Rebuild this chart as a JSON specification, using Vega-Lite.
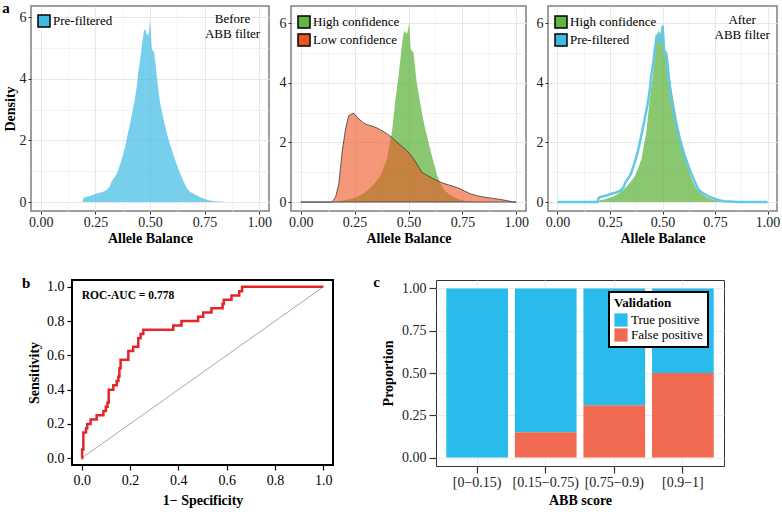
{
"$schema": "https://vega.github.io/schema/vega-lite/v6.json",
"padding": {"left": 1, "top": 0, "right": 0, "bottom": 0},
"spacing": 27,
"resolve": {"scale": {"color": "independent"}, "legend": {"color": "independent"}},
"config": {
  "font": "Liberation Serif",
  "axis": {"labelFont": "Liberation Serif", "titleFont": "Liberation Serif", "titleFontWeight": "bold", "titleColor": "black"},
  "legend": {"labelFont": "Liberation Serif", "titleFont": "Liberation Serif"},
  "text": {"font": "Liberation Serif"},
  "view": {"stroke": null}
},
"datasets": {
  "prefiltered": [{"x":0,"y":0},{"x":0.19,"y":0},{"x":0.195,"y":0.12},{"x":0.2,"y":0.16},{"x":0.225,"y":0.2},{"x":0.253,"y":0.27},{"x":0.28,"y":0.32},{"x":0.3,"y":0.38},{"x":0.315,"y":0.5},{"x":0.323,"y":0.65},{"x":0.338,"y":0.81},{"x":0.35,"y":0.95},{"x":0.361,"y":1.19},{"x":0.372,"y":1.42},{"x":0.384,"y":1.73},{"x":0.395,"y":2.1},{"x":0.407,"y":2.49},{"x":0.42,"y":2.95},{"x":0.431,"y":3.35},{"x":0.44,"y":3.8},{"x":0.446,"y":4.22},{"x":0.455,"y":4.6},{"x":0.461,"y":4.97},{"x":0.468,"y":5.35},{"x":0.472,"y":5.57},{"x":0.478,"y":5.6},{"x":0.485,"y":5.46},{"x":0.492,"y":5.4},{"x":0.497,"y":5.6},{"x":0.5,"y":5.9},{"x":0.504,"y":5.5},{"x":0.508,"y":4.97},{"x":0.514,"y":4.9},{"x":0.519,"y":4.86},{"x":0.525,"y":4.5},{"x":0.531,"y":4.1},{"x":0.538,"y":3.65},{"x":0.546,"y":3.24},{"x":0.557,"y":2.85},{"x":0.569,"y":2.49},{"x":0.58,"y":2.15},{"x":0.593,"y":1.84},{"x":0.605,"y":1.58},{"x":0.616,"y":1.35},{"x":0.627,"y":1.12},{"x":0.639,"y":0.92},{"x":0.655,"y":0.65},{"x":0.67,"y":0.43},{"x":0.685,"y":0.33},{"x":0.7,"y":0.27},{"x":0.725,"y":0.17},{"x":0.747,"y":0.11},{"x":0.77,"y":0.06},{"x":0.793,"y":0.03},{"x":0.82,"y":0.015},{"x":0.855,"y":0},{"x":1,"y":0}],
  "high": [{"x":0,"y":0},{"x":0.15,"y":0},{"x":0.17,"y":0.02},{"x":0.2,"y":0.05},{"x":0.23,"y":0.1},{"x":0.26,"y":0.17},{"x":0.29,"y":0.28},{"x":0.32,"y":0.45},{"x":0.345,"y":0.65},{"x":0.37,"y":0.89},{"x":0.385,"y":1.15},{"x":0.4,"y":1.45},{"x":0.41,"y":1.85},{"x":0.423,"y":2.34},{"x":0.43,"y":2.8},{"x":0.438,"y":3.35},{"x":0.446,"y":3.8},{"x":0.454,"y":4.24},{"x":0.462,"y":4.75},{"x":0.469,"y":5.24},{"x":0.475,"y":5.55},{"x":0.48,"y":5.74},{"x":0.486,"y":5.7},{"x":0.492,"y":5.63},{"x":0.497,"y":5.75},{"x":0.503,"y":6.02},{"x":0.507,"y":5.5},{"x":0.51,"y":5.13},{"x":0.516,"y":5.06},{"x":0.523,"y":5.02},{"x":0.53,"y":4.55},{"x":0.538,"y":4.01},{"x":0.55,"y":3.5},{"x":0.562,"y":3.01},{"x":0.573,"y":2.6},{"x":0.585,"y":2.23},{"x":0.597,"y":1.88},{"x":0.608,"y":1.56},{"x":0.62,"y":1.25},{"x":0.63,"y":0.95},{"x":0.645,"y":0.68},{"x":0.66,"y":0.45},{"x":0.685,"y":0.28},{"x":0.71,"y":0.17},{"x":0.74,"y":0.08},{"x":0.77,"y":0.03},{"x":0.83,"y":0},{"x":1,"y":0}],
  "low": [{"x":0,"y":0},{"x":0.146,"y":0},{"x":0.162,"y":0.17},{"x":0.177,"y":0.61},{"x":0.192,"y":1.67},{"x":0.208,"y":2.45},{"x":0.223,"y":2.9},{"x":0.246,"y":2.98},{"x":0.269,"y":2.79},{"x":0.29,"y":2.66},{"x":0.308,"y":2.59},{"x":0.33,"y":2.55},{"x":0.354,"y":2.48},{"x":0.38,"y":2.38},{"x":0.4,"y":2.29},{"x":0.425,"y":2.15},{"x":0.446,"y":2.01},{"x":0.47,"y":1.86},{"x":0.492,"y":1.73},{"x":0.51,"y":1.58},{"x":0.523,"y":1.45},{"x":0.545,"y":1.2},{"x":0.562,"y":1.0},{"x":0.58,"y":0.92},{"x":0.6,"y":0.84},{"x":0.623,"y":0.75},{"x":0.646,"y":0.67},{"x":0.67,"y":0.61},{"x":0.692,"y":0.56},{"x":0.715,"y":0.51},{"x":0.738,"y":0.45},{"x":0.76,"y":0.37},{"x":0.785,"y":0.28},{"x":0.815,"y":0.22},{"x":0.846,"y":0.17},{"x":0.885,"y":0.13},{"x":0.923,"y":0.09},{"x":0.955,"y":0.05},{"x":0.985,"y":0},{"x":1,"y":0}],
  "roc": [{"x":0,"y":0},{"x":0.002,"y":0.05},{"x":0.007,"y":0.15},{"x":0.018,"y":0.175},{"x":0.023,"y":0.2},{"x":0.037,"y":0.225},{"x":0.062,"y":0.25},{"x":0.09,"y":0.275},{"x":0.1,"y":0.3},{"x":0.107,"y":0.325},{"x":0.112,"y":0.4},{"x":0.131,"y":0.425},{"x":0.145,"y":0.45},{"x":0.152,"y":0.475},{"x":0.156,"y":0.525},{"x":0.161,"y":0.575},{"x":0.193,"y":0.625},{"x":0.213,"y":0.65},{"x":0.234,"y":0.7},{"x":0.244,"y":0.725},{"x":0.255,"y":0.75},{"x":0.379,"y":0.775},{"x":0.413,"y":0.8},{"x":0.482,"y":0.825},{"x":0.503,"y":0.85},{"x":0.537,"y":0.875},{"x":0.583,"y":0.9},{"x":0.588,"y":0.925},{"x":0.62,"y":0.95},{"x":0.652,"y":0.975},{"x":0.664,"y":1.0},{"x":1.0,"y":1.0}],
  "diag": [{"x":0,"y":0},{"x":1,"y":1}],
  "bars": [
    {"score":"[0−0.15)","validation":"True positive","prop":1.0},
    {"score":"[0−0.15)","validation":"False positive","prop":0.0},
    {"score":"[0.15−0.75)","validation":"True positive","prop":0.85},
    {"score":"[0.15−0.75)","validation":"False positive","prop":0.15},
    {"score":"[0.75−0.9)","validation":"True positive","prop":0.69},
    {"score":"[0.75−0.9)","validation":"False positive","prop":0.31},
    {"score":"[0.9−1]","validation":"True positive","prop":0.5},
    {"score":"[0.9−1]","validation":"False positive","prop":0.5}
  ]
},
"vconcat": [
  {
    "resolve": {"scale": {"color": "independent"}, "legend": {"color": "independent"}},
    "hconcat": [
      {
        "width": 238, "height": 205,
        "view": {"stroke": "#7f7f7f", "strokeWidth": 1.5},
        "layer": [
          {
            "data": {"name": "prefiltered"},
            "mark": {"type": "area", "opacity": 0.7},
            "encoding": {
              "x": {"field": "x", "type": "quantitative", "scale": {"domain": [-0.045, 1.045], "nice": false},
                "axis": {"title": "Allele Balance", "values": [0,0.125,0.25,0.375,0.5,0.625,0.75,0.875,1], "tickCount": 20, "labelExpr": "(datum.value*4)%1==0 ? format(datum.value,'.2f') : ''", "tickOpacity": {"condition": {"test": "(datum.value*4)%1==0", "value": 1}, "value": 0}, "gridColor": "#e8e8e8", "gridWidth": {"condition": {"test": "(datum.value*4)%1==0", "value": 1}, "value": 0.5}, "domain": false, "tickSize": 3, "tickColor": "#333333", "labelPadding": 1, "labelFontSize": 14, "labelColor": "#222222", "labelOverlap": false, "labelFlush": false, "titleFontSize": 14, "titlePadding": 2}},
              "y": {"field": "y", "type": "quantitative", "scale": {"domain": [-0.29, 6.36], "nice": false},
                "axis": {"title": "Density", "values": [0,1,2,3,4,5,6], "tickCount": 20, "labelExpr": "datum.value%2==0 ? format(datum.value,'d') : ''", "tickOpacity": {"condition": {"test": "datum.value%2==0", "value": 1}, "value": 0}, "gridColor": "#e8e8e8", "gridWidth": {"condition": {"test": "datum.value%2==0", "value": 1}, "value": 0.5}, "domain": false, "tickSize": 3, "tickColor": "#333333", "labelPadding": 2, "labelFontSize": 14, "labelColor": "#222222", "labelOverlap": false, "titleFontSize": 14, "titlePadding": 2}},
              "y2": {"datum": 0},
              "color": {"datum": "Pre-filtered", "type": "nominal", "scale": {"domain": ["Pre-filtered"], "range": ["#3dbbe4"]},
                "legend": {"orient": "none", "legendX": 6, "legendY": 8, "title": null, "symbolType": "square", "symbolSize": 144, "symbolStrokeColor": "black", "symbolStrokeWidth": 1.5, "symbolOpacity": 1, "labelFontSize": 13, "labelColor": "black", "labelOffset": 2, "rowPadding": 0, "padding": 0, "direction": "vertical"}}
            }
          },
          {
            "data": {"values": [{}]},
            "mark": {"type": "text", "text": ["Before", "ABB filter"], "fontSize": 13, "lineHeight": 15, "align": "center", "baseline": "alphabetic", "color": "black"},
            "encoding": {"x": {"datum": 0.878}, "y": {"datum": 5.82}}
          },
          {
            "data": {"values": [{}]},
            "mark": {"type": "text", "text": "a", "fontSize": 15, "fontWeight": "bold", "align": "center", "baseline": "alphabetic", "color": "black"},
            "encoding": {"x": {"datum": -0.16}, "y": {"datum": 6.14}}
          }
        ]
      },
      {
        "width": 235, "height": 205,
        "view": {"stroke": "#7f7f7f", "strokeWidth": 1.5},
        "layer": [
          {
            "data": {"name": "high"},
            "mark": {"type": "area", "opacity": 0.75},
            "encoding": {
              "x": {"field": "x", "type": "quantitative", "scale": {"domain": [-0.045, 1.045], "nice": false},
                "axis": {"title": "Allele Balance", "values": [0,0.125,0.25,0.375,0.5,0.625,0.75,0.875,1], "tickCount": 20, "labelExpr": "(datum.value*4)%1==0 ? format(datum.value,'.2f') : ''", "tickOpacity": {"condition": {"test": "(datum.value*4)%1==0", "value": 1}, "value": 0}, "gridColor": "#e8e8e8", "gridWidth": {"condition": {"test": "(datum.value*4)%1==0", "value": 1}, "value": 0.5}, "domain": false, "tickSize": 3, "tickColor": "#333333", "labelPadding": 1, "labelFontSize": 14, "labelColor": "#222222", "labelOverlap": false, "labelFlush": false, "titleFontSize": 14, "titlePadding": 2}},
              "y": {"field": "y", "type": "quantitative", "scale": {"domain": [-0.3, 6.57], "nice": false},
                "axis": {"title": null, "values": [0,1,2,3,4,5,6], "tickCount": 20, "labelExpr": "datum.value%2==0 ? format(datum.value,'d') : ''", "tickOpacity": {"condition": {"test": "datum.value%2==0", "value": 1}, "value": 0}, "gridColor": "#e8e8e8", "gridWidth": {"condition": {"test": "datum.value%2==0", "value": 1}, "value": 0.5}, "domain": false, "tickSize": 3, "tickColor": "#333333", "labelPadding": 2, "labelFontSize": 14, "labelColor": "#222222", "labelOverlap": false}},
              "y2": {"datum": 0},
              "color": {"datum": "High confidence", "type": "nominal", "scale": {"domain": ["High confidence", "Low confidence"], "range": ["#62b541", "#ee5420"]},
                "legend": {"orient": "none", "legendX": 6, "legendY": 9, "title": null, "symbolType": "square", "symbolSize": 144, "symbolStrokeColor": "black", "symbolStrokeWidth": 1.5, "symbolOpacity": 1, "labelFontSize": 13, "labelColor": "black", "labelOffset": 2, "rowPadding": 0, "padding": 0, "direction": "vertical"}}
            }
          },
          {
            "data": {"name": "low"},
            "mark": {"type": "area", "fillOpacity": 0.6, "stroke": "#3a3a3a", "strokeWidth": 0.8},
            "encoding": {
              "x": {"field": "x", "type": "quantitative", "title": "Allele Balance"},
              "y": {"field": "y", "type": "quantitative", "title": null},
              "y2": {"datum": 0},
              "color": {"datum": "Low confidence", "type": "nominal",
                "legend": {"orient": "none", "legendX": 6, "legendY": 9, "title": null, "symbolType": "square", "symbolSize": 144, "symbolStrokeColor": "black", "symbolStrokeWidth": 1.5, "symbolOpacity": 1, "labelFontSize": 13, "labelColor": "black", "labelOffset": 2, "rowPadding": 0, "padding": 0, "direction": "vertical"}}
            }
          }
        ]
      },
      {
        "width": 229, "height": 205,
        "view": {"stroke": "#7f7f7f", "strokeWidth": 1.5},
        "layer": [
          {
            "data": {"name": "high"},
            "mark": {"type": "area", "opacity": 0.75},
            "encoding": {
              "x": {"field": "x", "type": "quantitative", "scale": {"domain": [-0.045, 1.045], "nice": false},
                "axis": {"title": "Allele Balance", "values": [0,0.125,0.25,0.375,0.5,0.625,0.75,0.875,1], "tickCount": 20, "labelExpr": "(datum.value*4)%1==0 ? format(datum.value,'.2f') : ''", "tickOpacity": {"condition": {"test": "(datum.value*4)%1==0", "value": 1}, "value": 0}, "gridColor": "#e8e8e8", "gridWidth": {"condition": {"test": "(datum.value*4)%1==0", "value": 1}, "value": 0.5}, "domain": false, "tickSize": 3, "tickColor": "#333333", "labelPadding": 1, "labelFontSize": 14, "labelColor": "#222222", "labelOverlap": false, "labelFlush": false, "titleFontSize": 14, "titlePadding": 2}},
              "y": {"field": "y", "type": "quantitative", "scale": {"domain": [-0.3, 6.57], "nice": false},
                "axis": {"title": null, "values": [0,1,2,3,4,5,6], "tickCount": 20, "labelExpr": "datum.value%2==0 ? format(datum.value,'d') : ''", "tickOpacity": {"condition": {"test": "datum.value%2==0", "value": 1}, "value": 0}, "gridColor": "#e8e8e8", "gridWidth": {"condition": {"test": "datum.value%2==0", "value": 1}, "value": 0.5}, "domain": false, "tickSize": 3, "tickColor": "#333333", "labelPadding": 2, "labelFontSize": 14, "labelColor": "#222222", "labelOverlap": false}},
              "y2": {"datum": 0},
              "color": {"datum": "High confidence", "type": "nominal", "scale": {"domain": ["High confidence", "Pre-filtered"], "range": ["#62b541", "#3dbbe4"]},
                "legend": {"orient": "none", "legendX": 6, "legendY": 9, "title": null, "symbolType": "square", "symbolSize": 144, "symbolStrokeColor": "black", "symbolStrokeWidth": 1.5, "symbolOpacity": 1, "labelFontSize": 13, "labelColor": "black", "labelOffset": 2, "rowPadding": 0, "padding": 0, "direction": "vertical"}}
            }
          },
          {
            "data": {"name": "prefiltered"},
            "mark": {"type": "line", "color": "#62c8ea", "strokeWidth": 2.5},
            "encoding": {
              "x": {"field": "x", "type": "quantitative", "title": "Allele Balance"},
              "y": {"field": "y", "type": "quantitative", "title": null}
            }
          },
          {
            "data": {"values": [{}]},
            "mark": {"type": "text", "text": ["After", "ABB filter"], "fontSize": 13, "lineHeight": 15, "align": "center", "baseline": "alphabetic", "color": "black"},
            "encoding": {"x": {"datum": 0.879}, "y": {"datum": 5.98}}
          }
        ]
      }
    ],
    "spacing": 22,
    "bounds": "flush"
  },
  {
    "resolve": {"scale": {"color": "independent"}, "legend": {"color": "independent"}},
    "hconcat": [
      {
        "width": 41, "height": 1,
        "view": {"stroke": null},
        "data": {"values": [{}]},
        "mark": {"type": "text", "text": ""},
        "encoding": {}
      },
      {
        "resolve": {"scale": {"color": "independent"}, "legend": {"color": "independent"}},
        "hconcat": [
          {
            "width": 261, "height": 185,
            "view": {"stroke": "black", "strokeWidth": 2},
            "layer": [
              {
                "data": {"name": "diag"},
                "mark": {"type": "line", "color": "#a8a8a8", "strokeWidth": 1},
                "encoding": {
                  "x": {"field": "x", "type": "quantitative", "scale": {"domain": [-0.04, 1.04], "nice": false},
                    "axis": {"title": "1− Specificity", "values": [0,0.2,0.4,0.6,0.8,1], "tickCount": 20, "format": ".1f", "grid": false, "domain": false, "tickSize": 5, "tickWidth": 1.2, "tickColor": "black", "labelFontSize": 14, "labelColor": "black", "labelPadding": 3, "labelFlush": false, "labelOverlap": false, "titleFontSize": 14, "titlePadding": 6}},
                  "y": {"field": "y", "type": "quantitative", "scale": {"domain": [-0.04, 1.04], "nice": false},
                    "axis": {"title": "Sensitivity", "values": [0,0.2,0.4,0.6,0.8,1], "tickCount": 20, "format": ".1f", "grid": false, "domain": false, "tickSize": 5, "tickWidth": 1.2, "tickColor": "black", "labelFontSize": 14, "labelColor": "black", "labelPadding": 3, "labelFlush": false, "labelOverlap": false, "titleFontSize": 14, "titlePadding": 5}}
                }
              },
              {
                "data": {"name": "roc"},
                "mark": {"type": "line", "color": "#e3262b", "strokeWidth": 2.5, "interpolate": "step-after"},
                "encoding": {
                  "x": {"field": "x", "type": "quantitative", "title": "1− Specificity"},
                  "y": {"field": "y", "type": "quantitative", "title": "Sensitivity"}
                }
              },
              {
                "data": {"values": [{}]},
                "mark": {"type": "text", "text": "ROC-AUC = 0.778", "fontSize": 11.5, "fontWeight": "bold", "align": "left", "baseline": "alphabetic", "color": "black"},
                "encoding": {"x": {"datum": 0.0}, "y": {"datum": 0.93}}
              },
              {
                "data": {"values": [{}]},
                "mark": {"type": "text", "text": "b", "fontSize": 15, "fontWeight": "bold", "align": "center", "baseline": "alphabetic", "color": "black"},
                "encoding": {"x": {"datum": -0.23}, "y": {"datum": 0.995}}
              },
              {
                "data": {"values": [{}]},
                "mark": {"type": "text", "text": "c", "fontSize": 15, "fontWeight": "bold", "align": "center", "baseline": "alphabetic", "color": "black"},
                "encoding": {"x": {"datum": 1.22}, "y": {"datum": 1.0}}
              }
            ]
          },
          {
            "width": 288, "height": 186,
            "view": {"stroke": "#333333", "strokeWidth": 1},
            "data": {"name": "bars"},
            "mark": {"type": "bar"},
            "encoding": {
              "x": {"field": "score", "type": "nominal", "sort": null, "scale": {"paddingInner": 0.1, "paddingOuter": 0.15},
                "axis": {"title": "ABB score", "labelAngle": 0, "tickSize": 7, "tickColor": "#333333", "tickWidth": 1.2, "grid": true, "gridColor": "#ebebeb", "bandPosition": 0.5, "domain": false, "labelFontSize": 14, "labelColor": "#222222", "labelPadding": 2, "titleFontSize": 14, "titlePadding": 4}},
              "y": {"field": "prop", "type": "quantitative", "stack": "zero", "scale": {"domain": [-0.05, 1.05], "nice": false},
                "axis": {"title": "Proportion", "values": [0,0.125,0.25,0.375,0.5,0.625,0.75,0.875,1], "tickCount": 20, "labelExpr": "(datum.value*4)%1==0 ? format(datum.value,'.2f') : ''", "tickOpacity": {"condition": {"test": "(datum.value*4)%1==0", "value": 1}, "value": 0}, "gridColor": "#ebebeb", "gridWidth": {"condition": {"test": "(datum.value*4)%1==0", "value": 1}, "value": 0.5}, "domain": false, "tickSize": 7, "tickWidth": 1.2, "tickColor": "#333333", "labelPadding": 3, "labelFontSize": 14, "labelColor": "#222222", "labelOverlap": false, "labelFlush": false, "titleFontSize": 14, "titlePadding": 6}},
              "color": {"field": "validation", "type": "nominal", "scale": {"domain": ["True positive", "False positive"], "range": ["#29bbec", "#ef6a50"]},
                "legend": {"orient": "none", "legendX": 173, "legendY": 12, "title": "Validation", "titleFontSize": 13, "titleFontWeight": "bold", "titleColor": "black", "titlePadding": 3, "labelFontSize": 13, "labelColor": "black", "labelOffset": 3, "symbolType": "square", "symbolSize": 175, "symbolStrokeWidth": 0, "symbolOpacity": 1, "rowPadding": 1, "padding": 5, "fillColor": "white", "strokeColor": "black", "direction": "vertical", "encode": {"legend": {"update": {"strokeWidth": {"value": 2}}}}}},
              "order": {"field": "validation", "sort": "ascending"}
            }
          }
        ],
        "spacing": 103,
        "bounds": "flush"
      }
    ],
    "spacing": 0,
    "bounds": "flush"
  }
]
}
